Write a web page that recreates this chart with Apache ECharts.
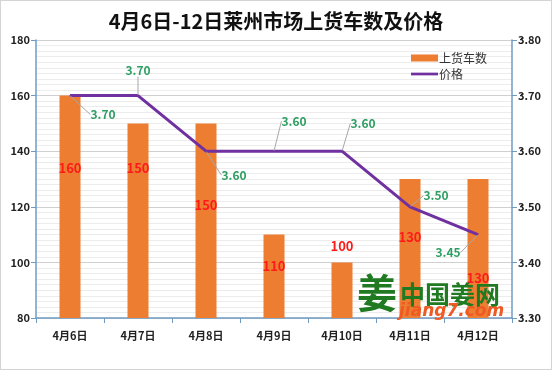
<!DOCTYPE html>
<html>
<head>
<meta charset="utf-8">
<script src="https://cdn.jsdelivr.net/npm/echarts@6/dist/echarts.min.js"></script>
<style>
html,body{margin:0;padding:0;background:#fff;}
#c{width:552px;height:370px;box-sizing:border-box;border:1px solid #d4d4d4;}
</style>
</head>
<body>
<div id="c"></div>
<script>
const categories = ['4月6日','4月7日','4月8日','4月9日','4月10日','4月11日','4月12日'];
const trucks = [160, 150, 150, 110, 100, 130, 130];
const prices = [3.70, 3.70, 3.60, 3.60, 3.60, 3.50, 3.45];
const leftTicks = [80, 180, 20];
const rightTicks = [3.3, 3.8, 0.1];

// label placement (style, not data)
const barLabelDy = [72, 45, 82, 31, -16, 58, 99];
const priceLabelD = [[33,19],[0,-25],[28,24],[20,-30],[21,-28],[26,-11],[-30,18]];

const chart = echarts.init(document.getElementById('c'), null, {renderer:'canvas'});
const FONT = '"Noto Sans CJK SC","Noto Sans",sans-serif';
const axisBlue = '#6f9bc3';

chart.setOption({
  animation:false,
  backgroundColor:'#fff',
  title:{
    text:'4月6日-12日莱州市场上货车数及价格',
    left:'center', top:5,
    textStyle:{fontFamily:FONT,fontSize:20,fontWeight:'bold',color:'#111'}
  },
  legend:{
    orient:'vertical', left:405, top:46, itemGap:4,
    itemWidth:27, itemHeight:7,
    textStyle:{fontFamily:FONT,fontSize:12,color:'#333',padding:[0,0,0,-4]},
    data:[
      {name:'上货车数', icon:'rect'},
      {name:'价格', icon:'path://M0,0L30,0L30,3L0,3Z'}
    ]
  },
  grid:{left:35, right:39, top:39, bottom:51},
  xAxis:{
    type:'category', data:categories,
    axisLine:{lineStyle:{color:axisBlue,width:1.5}},
    axisTick:{show:true,length:5,lineStyle:{color:axisBlue}},
    axisLabel:{fontFamily:FONT,fontSize:11,fontWeight:'bold',color:'#222',margin:12}
  },
  yAxis:[
    {
      type:'value', min:leftTicks[0], max:leftTicks[1], interval:leftTicks[2],
      axisLine:{show:true,lineStyle:{color:axisBlue,width:1.5}},
      axisTick:{show:true,length:5,lineStyle:{color:axisBlue}},
      axisLabel:{fontFamily:FONT,fontSize:11,fontWeight:'bold',color:'#222',margin:6},
      splitLine:{lineStyle:{color:'#d0d0d0'}},
      minorTick:{show:false,splitNumber:10},
      minorSplitLine:{show:true,lineStyle:{color:'#ececec'}}
    },
    {
      type:'value', min:rightTicks[0], max:rightTicks[1], interval:rightTicks[2],
      position:'right',
      axisLine:{show:true,lineStyle:{color:axisBlue,width:1.5}},
      axisTick:{show:true,length:5,lineStyle:{color:axisBlue}},
      axisLabel:{fontFamily:FONT,fontSize:11,fontWeight:'bold',color:'#222',margin:6,
        formatter:v=>v.toFixed(2)},
      splitLine:{show:false}
    }
  ],
  series:[
    {
      name:'上货车数', type:'bar', data:trucks, barWidth:21,
      itemStyle:{color:'#ed7d31'},
      label:{show:true,color:'#ff1a1a',fontFamily:FONT,fontSize:13,fontWeight:'bold'},
      labelLayout:function(p){
        const r=p.rect;
        return {x:r.x+r.width/2, y:r.y+barLabelDy[p.dataIndex], align:'center', verticalAlign:'middle'};
      },
      z:2
    },
    {
      name:'价格', type:'line', yAxisIndex:1, data:prices,
      symbol:'circle', symbolSize:1, showSymbol:true,
      lineStyle:{color:'#7030a0',width:3},
      itemStyle:{color:'#7030a0'},
      label:{show:true,color:'#2e9e62',fontFamily:FONT,fontSize:12,fontWeight:'bold',
        formatter:p=>p.value.toFixed(2)},
      labelLine:{show:true,lineStyle:{color:'#a8a8a8',width:1}},
      labelLayout:function(p){
        const r=p.rect, d=priceLabelD[p.dataIndex];
        return {x:r.x+r.width/2+d[0], y:r.y+r.height/2+d[1], align:'center', verticalAlign:'middle'};
      },
      z:3
    }
  ],
  graphic:[
    {type:'text', left:356, top:272, z:100,
      style:{text:'姜', fontFamily:FONT, fontSize:40, fontWeight:'bold', fill:'#1f7a22'}},
    {type:'text', left:399, top:281, z:100,
      style:{text:'中国姜网', fontFamily:FONT, fontSize:25, fontWeight:'bold', fill:'#1f7a22'}},
    {type:'text', left:398, top:302, z:100,
      style:{text:'jiang7.com', fontFamily:'"DejaVu Sans",sans-serif', fontSize:17, fontWeight:'bold', fontStyle:'italic', fill:'#ee5a22'}}
  ]
});
</script>
</body>
</html>
